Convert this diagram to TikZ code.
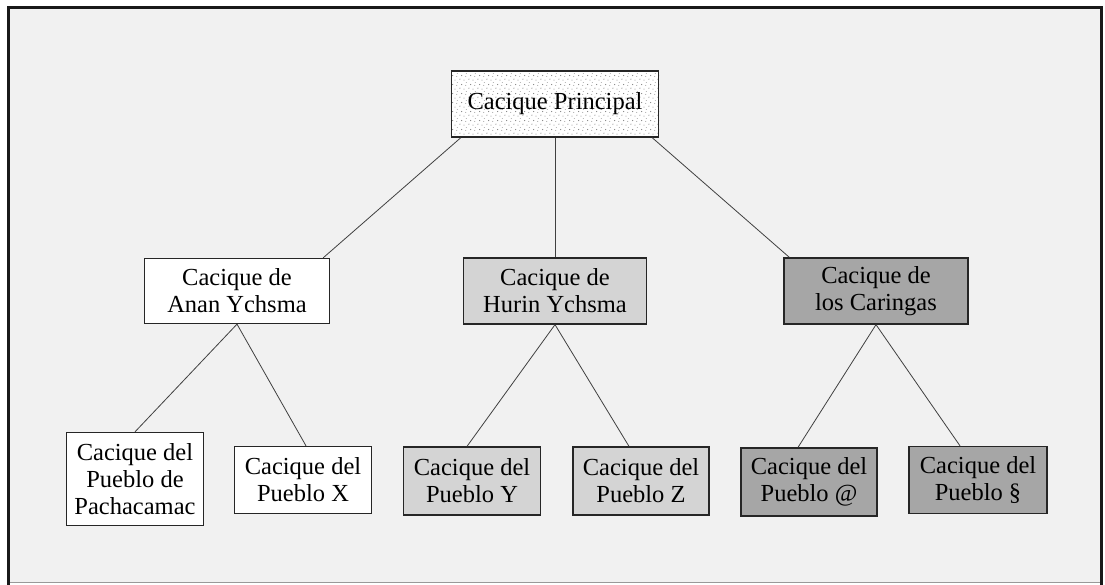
\documentclass[tikz,border=0pt]{standalone}
\usepackage{fontspec}
\setmainfont{Liberation Serif}
\usepackage{tikz}
\usetikzlibrary{positioning,patterns}
\pgfdeclarepatternformonly{specks}{\pgfpointorigin}{\pgfqpoint{9pt}{9pt}}{\pgfqpoint{9pt}{9pt}}{
  \pgfpathcircle{\pgfqpoint{1pt}{2pt}}{0.6pt}
  \pgfpathcircle{\pgfqpoint{5.5pt}{1pt}}{0.5pt}
  \pgfpathcircle{\pgfqpoint{3pt}{6pt}}{0.6pt}
  \pgfpathcircle{\pgfqpoint{7.5pt}{5pt}}{0.5pt}
  \pgfpathcircle{\pgfqpoint{8pt}{8.3pt}}{0.45pt}
  \pgfusepath{fill}}
\definecolor{framebg}{HTML}{F1F1F1}
\definecolor{midgray}{HTML}{D4D4D4}
\definecolor{darkgray}{HTML}{A6A6A6}
\begin{document}
\begin{tikzpicture}[x=1pt,y=-1pt,
    cbox/.style={draw=black!85,line width=1.3pt,align=center,inner sep=0pt,
      font=\fontsize{24.5}{27}\selectfont},
    anan/.style={cbox,fill=white},
    hurin/.style={cbox,fill=midgray},
    caring/.style={cbox,fill=darkgray},
    link/.style={draw=black!75,line width=0.8pt}]
  % frame
  \useasboundingbox (0,0) rectangle (1105,585);
  \fill[framebg] (8,8) rectangle (1101,582);
  \draw[black!40,line width=0.8pt] (8,582) -- (1101,582);
  \draw[black!90,line width=3pt] (8,585) -- (8,8) -- (1101,8) -- (1101,585);
  % top
  \node[cbox,fill=white,minimum width=207,minimum height=66] (principal) at (555,104) {};
  \fill[pattern=specks,pattern color=black!55] (principal.south west) rectangle (principal.north east);
  \node[cbox,minimum width=207,minimum height=66] at (principal) {Cacique Principal};
  % second row
  \node[anan,minimum width=185,minimum height=65] (ananych) at (237,291) {Cacique de\\Anan Ychsma};
  \node[hurin,minimum width=183,minimum height=66] (hurinych) at (555,291) {Cacique de\\Hurin Ychsma};
  \node[caring,minimum width=184,minimum height=66] (caringas) at (876,291) {Cacique de\\los Caringas};
  % pueblos
  \node[anan,minimum width=137,minimum height=93] (pacha) at (135,479) {Cacique del\\Pueblo de\\Pachacamac};
  \node[anan,minimum width=137,minimum height=67] (puebx) at (303,480) {Cacique del\\Pueblo X};
  \node[hurin,minimum width=137,minimum height=68] (pueby) at (472,481) {Cacique del\\Pueblo Y};
  \node[hurin,minimum width=136,minimum height=68] (pueblz) at (641,481) {Cacique del\\Pueblo Z};
  \node[caring,minimum width=136,minimum height=68] (puebat) at (809,482) {Cacique del\\Pueblo @};
  \node[caring,minimum width=138,minimum height=67] (puebss) at (978,480) {Cacique del\\Pueblo \S};
  % links
  \draw[link] ([xshift=10pt]principal.south west) -- ([xshift=-7pt]ananych.north east);
  \draw[link] (principal.south) -- (hurinych.north);
  \draw[link] ([xshift=-7pt]principal.south east) -- ([xshift=6pt]caringas.north west);
  \draw[link] (ananych.south) -- (pacha.north);
  \draw[link] (ananych.south) -- ([xshift=3pt]puebx.north);
  \draw[link] (hurinych.south) -- ([xshift=-5pt]pueby.north);
  \draw[link] (hurinych.south) -- ([xshift=-12pt]pueblz.north);
  \draw[link] (caringas.south) -- ([xshift=-11pt]puebat.north);
  \draw[link] (caringas.south) -- ([xshift=-18pt]puebss.north);
\end{tikzpicture}
\end{document}
